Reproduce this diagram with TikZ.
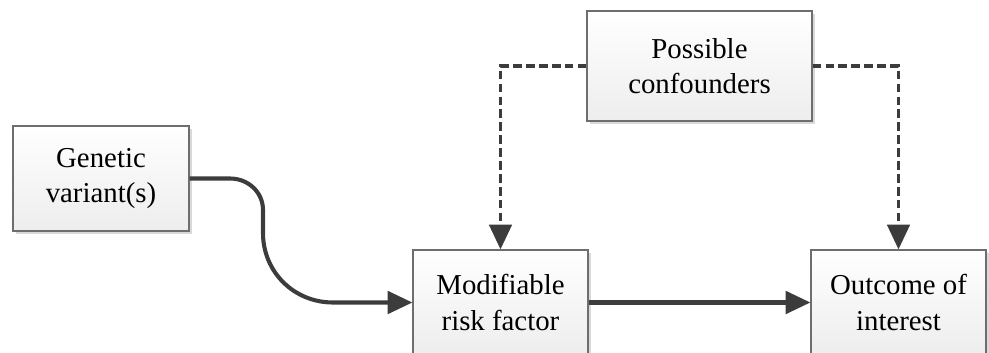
\documentclass[tikz,border=0pt]{standalone}
\usepackage{fontspec}
\setmainfont{Liberation Serif}
\usetikzlibrary{shadows, arrows.meta}

\definecolor{linkgray}{HTML}{3C3C3C}
\definecolor{boxgray}{HTML}{6E6E6E}

\tikzset{
  box/.style = {draw = boxgray, line width = 0.8pt, top color = white, bottom color = gray!14,
    minimum width = 4.4cm, minimum height = 2.625cm, align = center, inner sep = 0pt,
    font = \fontsize{20.5}{25}\selectfont,
    drop shadow = {shadow xshift = 0.08cm, shadow yshift = -0.08cm, fill = gray!30, opacity = 1}},
  link/.style = {draw = linkgray, line width = 2.9pt, -{Triangle[length = 0.62cm, width = 0.56cm]}},
  dashlink/.style = {link, line width = 2.5pt, dash pattern = on 6pt off 3.2pt}
}

\begin{document}
\begin{tikzpicture} [x = 0.025cm, y = -0.025cm]
\useasboundingbox (0, 0) rectangle (989, 353);
\node[box] (gen) at (101, 178.5){Genetic\\variant(s)};
\node[box, minimum width = 5.625cm, minimum height = 2.75cm] (conf) at (699.5, 66){Possible\\confounders};
\node[box, minimum width = 4.375cm] (mod) at (500.5, 302.5){Modifiable\\risk factor};
\node[box, minimum width = 4.375cm] (out) at (898.5, 302.5){Outcome of\\interest};
\draw[link] (gen.east) -- (230, 178.5) .. controls (248, 178.5) and (263, 192) .. (263, 210) -- (263, 233) .. controls (263, 272) and (294, 302.5) .. (333, 302.5) -- (mod.west);
\draw[link] (mod) -- (out);
\draw[dashlink] (conf.west) -| (mod.north);
\draw[dashlink] (conf.east) -| (out.north);
\end{tikzpicture}
\end{document}
